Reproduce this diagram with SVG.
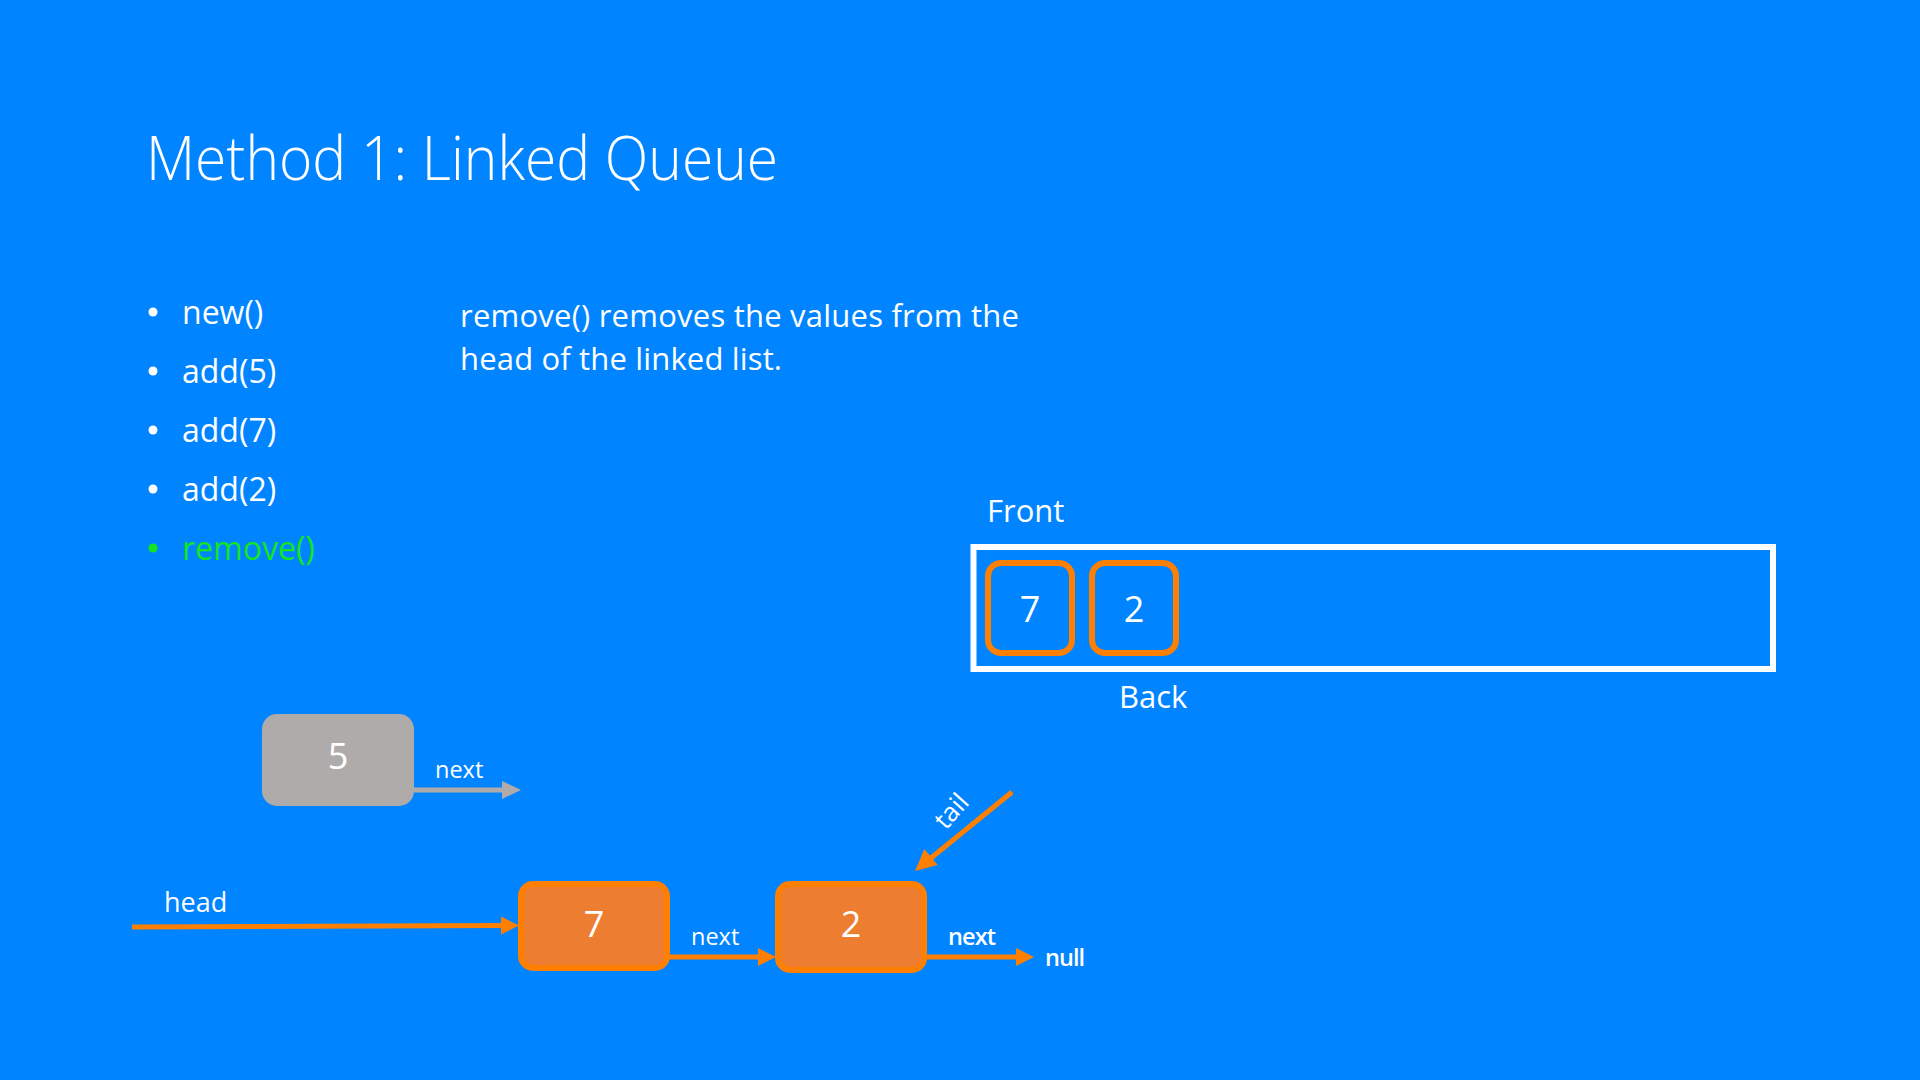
<svg xmlns="http://www.w3.org/2000/svg" width="1920" height="1080" viewBox="0 0 1920 1080">
  <style>
    .txt { font-family: "Open Sans", "Noto Sans", "DejaVu Sans", sans-serif; fill: #FFFFFF; }
    .title { font-size: 60px; font-weight: 300; }
    .body { font-size: 31px; }
    .list { font-size: 32px; }
    .num { font-size: 36px; text-anchor: middle; }
    .lbl { font-size: 23.5px; }
    .bold { font-weight: 600; }
    .green { fill: #14E61E; }
    .ptr { stroke: #FF7F00; stroke-width: 5; fill: none; }
    .ptr-grey { stroke: #AFABAB; stroke-width: 5; fill: none; }
    .head-o { fill: #FF7F00; }
    .head-g { fill: #AFABAB; }
    .node { fill: #ED7D31; stroke: #FF7F00; stroke-width: 6; }
    .slot { fill: none; stroke: #FF7F00; stroke-width: 6; }
  </style>

  <!-- slide background -->
  <rect x="0" y="0" width="1920" height="1080" fill="#0084FF"/>

  <text class="txt title" x="146" y="180" textLength="632" lengthAdjust="spacingAndGlyphs">Method 1: Linked Queue</text>

  <!-- operation list -->
  <g id="ops">
    <circle cx="153" cy="312" r="4.5" fill="#FFFFFF"/>
    <text class="txt list" x="182" y="324">new()</text>
    <circle cx="153" cy="371" r="4.5" fill="#FFFFFF"/>
    <text class="txt list" x="182" y="383">add(5)</text>
    <circle cx="153" cy="430" r="4.5" fill="#FFFFFF"/>
    <text class="txt list" x="182" y="442">add(7)</text>
    <circle cx="153" cy="489" r="4.5" fill="#FFFFFF"/>
    <text class="txt list" x="182" y="501">add(2)</text>
    <circle cx="153" cy="548" r="4.5" fill="#14E61E"/>
    <text class="txt list green" x="182" y="560">remove()</text>
  </g>

  <g id="description">
    <text class="txt body" x="460" y="327" textLength="559">remove() removes the values from the</text>
    <text class="txt body" x="460" y="370" textLength="322">head of the linked list.</text>
  </g>

  <!-- array view of the queue -->
  <g id="queue">
    <text class="txt body" x="987" y="522">Front</text>
    <rect x="973.5" y="547" width="799.5" height="122" fill="none" stroke="#FFFFFF" stroke-width="6"/>
    <g id="slot-7">
      <rect class="slot" x="988" y="563" width="84" height="90" rx="13"/>
      <text class="txt num" x="1030" y="622">7</text>
    </g>
    <g id="slot-2">
      <rect class="slot" x="1092" y="563" width="84" height="90" rx="13"/>
      <text class="txt num" x="1134" y="622">2</text>
    </g>
    <text class="txt body" x="1119" y="708">Back</text>
  </g>

  <!-- removed node -->
  <g id="node-5">
    <rect x="262" y="714" width="152" height="92" rx="15" fill="#AFABAB"/>
    <text class="txt num" x="338" y="769">5</text>
  </g>

  <!-- linked list nodes -->
  <g id="node-7">
    <rect class="node" x="521" y="884" width="146" height="84" rx="12"/>
    <text class="txt num" x="594" y="937">7</text>
  </g>
  <g id="node-2">
    <rect class="node" x="778" y="884" width="146" height="86" rx="12"/>
    <text class="txt num" x="851" y="937">2</text>
  </g>

  <!-- pointers -->
  <g id="connectors">
    <line class="ptr-grey" x1="414" y1="790" x2="504" y2="790"/>
    <polygon class="head-g" points="502,781 521,790 502,799"/>
    <text class="txt lbl" x="435" y="778">next</text>

    <line class="ptr" x1="132" y1="927" x2="503" y2="925.5"/>
    <polygon class="head-o" points="501,916.5 519,925.5 501,934.5"/>
    <text class="txt body" x="164" y="912" style="font-size:27px">head</text>

    <line class="ptr" x1="667" y1="957" x2="760" y2="957"/>
    <polygon class="head-o" points="758,948 776,957 758,966"/>
    <text class="txt lbl" x="691" y="945">next</text>

    <line class="ptr" x1="924" y1="957" x2="1018" y2="957"/>
    <polygon class="head-o" points="1016,948 1034,957 1016,966"/>
    <text class="txt lbl bold" x="948" y="945" textLength="48">next</text>
    <text class="txt lbl bold" x="1045" y="966" textLength="40">null</text>

    <line class="ptr" x1="1012" y1="792" x2="931" y2="858"/>
    <polygon class="head-o" points="937.7,865 915,871 924.3,849"/>
    <text class="txt lbl" x="958" y="817" text-anchor="middle" style="font-size:26px" transform="rotate(-48 958 817)">tail</text>
  </g>
</svg>
